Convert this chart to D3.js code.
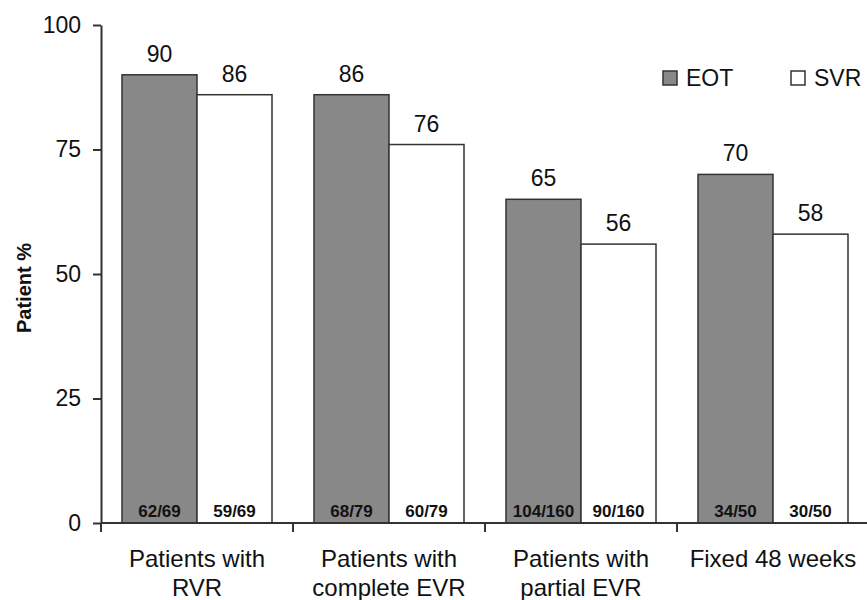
<!DOCTYPE html>
<html>
<head>
<meta charset="utf-8">
<script src="https://cdn.jsdelivr.net/npm/d3@7"></script>
<style>
  body { margin: 0; background: #fff; }
  svg { font-family: "Liberation Sans", Arial, sans-serif; }
</style>
</head>
<body>
<div id="chart"></div>
<script>
// Data
const categories = [["Patients with", "RVR"], ["Patients with", "complete EVR"], ["Patients with", "partial EVR"], ["Fixed 48 weeks"]];
const series = ["EOT", "SVR"];
const eotValues = [90, 86, 65, 70];
const svrValues = [86, 76, 56, 58];
const eotCounts = ["62/69", "68/79", "104/160", "34/50"];
const svrCounts = ["59/69", "60/79", "90/160", "30/50"];
const yTicks = [0, 25, 50, 75, 100];

const width = 867, height = 600;
const margin = { top: 25, right: -2, bottom: 77, left: 101 };
const colors = { EOT: "#888888", SVR: "#ffffff" };
const axisColor = "#333";
const textColor = "#111";

const svg = d3.select("#chart").append("svg")
  .attr("width", width).attr("height", height);

const x = d3.scaleBand()
  .domain(d3.range(categories.length))
  .range([margin.left, width - margin.right]);

const xInner = d3.scaleBand()
  .domain(series)
  .range([0, x.bandwidth()])
  .paddingOuter(0.28);

const y = d3.scaleLinear()
  .domain([0, 100])
  .range([height - margin.bottom, margin.top]);

// bars
const rows = categories.map((c, i) => [
  { key: "EOT", cat: i, value: eotValues[i], count: eotCounts[i] },
  { key: "SVR", cat: i, value: svrValues[i], count: svrCounts[i] }
]);

const groups = svg.selectAll("g.group")
  .data(rows)
  .enter().append("g")
  .attr("class", "group")
  .attr("transform", (d, i) => `translate(${x(i)},0)`);

groups.selectAll("rect")
  .data(d => d)
  .enter().append("rect")
  .attr("x", d => xInner(d.key))
  .attr("width", xInner.bandwidth())
  .attr("y", d => y(d.value))
  .attr("height", d => y(0) - y(d.value))
  .attr("fill", d => colors[d.key])
  .attr("stroke", axisColor)
  .attr("stroke-width", 1.5);

// value labels
groups.selectAll("text.value")
  .data(d => d)
  .enter().append("text")
  .attr("class", "value")
  .attr("x", d => xInner(d.key) + xInner.bandwidth() / 2)
  .attr("y", d => y(d.value) - 13)
  .attr("text-anchor", "middle")
  .attr("font-size", 23)
  .attr("fill", textColor)
  .text(d => d.value);

// count labels inside bars
groups.selectAll("text.count")
  .data(d => d)
  .enter().append("text")
  .attr("class", "count")
  .attr("x", d => xInner(d.key) + xInner.bandwidth() / 2)
  .attr("y", y(0) - 6)
  .attr("text-anchor", "middle")
  .attr("font-size", 17)
  .attr("font-weight", "bold")
  .attr("fill", textColor)
  .text(d => d.count);

// y axis
const yAxis = svg.append("g")
  .attr("transform", `translate(${margin.left},0)`)
  .call(d3.axisLeft(y).tickValues(yTicks).tickSize(8).tickPadding(12).tickSizeOuter(0));
yAxis.select(".domain").attr("stroke", axisColor).attr("stroke-width", 2);
yAxis.selectAll(".tick line").attr("stroke", axisColor).attr("stroke-width", 2);
yAxis.selectAll(".tick text")
  .attr("font-size", 23)
  .attr("font-family", "Liberation Sans, Arial, sans-serif")
  .attr("fill", textColor);

// x axis
const xAxis = svg.append("g").attr("transform", `translate(0,${y(0)})`);
xAxis.append("line")
  .attr("x1", margin.left).attr("x2", width)
  .attr("stroke", axisColor).attr("stroke-width", 2);
xAxis.selectAll("line.tick")
  .data(d3.range(categories.length + 1))
  .enter().append("line")
  .attr("class", "tick")
  .attr("x1", i => margin.left + i * x.step())
  .attr("x2", i => margin.left + i * x.step())
  .attr("y1", 0).attr("y2", 9)
  .attr("stroke", axisColor).attr("stroke-width", 2);

const catLabels = xAxis.selectAll("text.cat")
  .data(categories)
  .enter().append("text")
  .attr("class", "cat")
  .attr("text-anchor", "middle")
  .attr("font-size", 24)
  .attr("fill", textColor)
  .attr("x", (d, i) => x(i) + x.bandwidth() / 2);
catLabels.selectAll("tspan")
  .data(d => d)
  .enter().append("tspan")
  .attr("x", function () { return d3.select(this.parentNode).attr("x"); })
  .attr("y", (d, j) => 44 + j * 29)
  .text(d => d);

// y axis title
svg.append("text")
  .attr("transform", `translate(31,${(y(0) + y(100)) / 2 + 14}) rotate(-90)`)
  .attr("text-anchor", "middle")
  .attr("font-size", 20)
  .attr("font-weight", "bold")
  .attr("fill", textColor)
  .text("Patient %");

// legend
const legendX = [663, 791];
const legend = svg.selectAll("g.legend")
  .data(series)
  .enter().append("g")
  .attr("class", "legend")
  .attr("transform", (d, i) => `translate(${legendX[i]},71)`);
legend.append("rect")
  .attr("width", 14).attr("height", 14)
  .attr("fill", d => colors[d])
  .attr("stroke", axisColor).attr("stroke-width", 1.5);
legend.append("text")
  .attr("x", 23).attr("y", 15)
  .attr("font-size", 23)
  .attr("fill", textColor)
  .text(d => d);
</script>
</body>
</html>
